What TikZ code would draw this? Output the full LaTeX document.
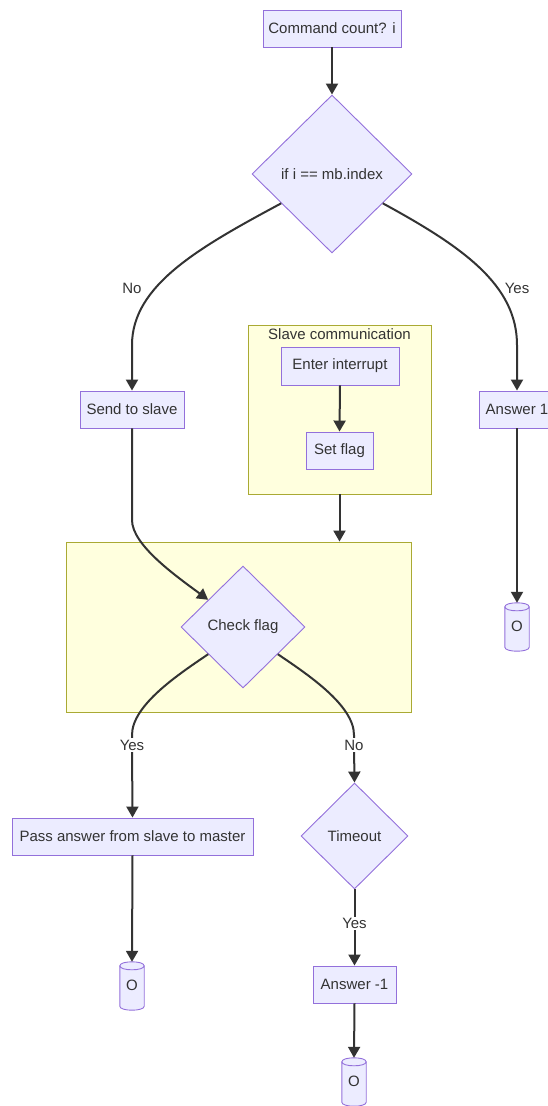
\documentclass[tikz,border=0pt]{standalone}
\usepackage{fontspec}
\setmainfont{Liberation Sans}
\usetikzlibrary{shapes.geometric,arrows.meta,calc}
\definecolor{nodefill}{HTML}{ECECFF}
\definecolor{nodeline}{HTML}{9370DB}
\definecolor{groupfill}{HTML}{FFFFDE}
\definecolor{groupline}{HTML}{AAAA33}
\definecolor{ink}{HTML}{333333}

% storage cylinder drawn around a named node
\newcommand\drawcan[1]{%
  \path[can]
    ($(#1.north west)+(0,4)$) -- ($(#1.south west)+(0,-4)$)
    .. controls +(0,5.33) and +(0,5.33) .. ($(#1.south east)+(0,-4)$)
    -- ($(#1.north east)+(0,4)$)
    .. controls +(0,-5.33) and +(0,-5.33) .. ($(#1.north west)+(0,4)$) -- cycle;
  \draw[canline] ($(#1.north west)+(0,4)$)
    .. controls +(0,5.33) and +(0,5.33) .. ($(#1.north east)+(0,4)$);
}

\begin{document}
\begin{tikzpicture}[x=1pt,y=-1pt,
  every node/.style={font=\fontsize{15}{18}\selectfont, text=ink},
  box/.style={rectangle, draw=nodeline, fill=nodefill, line width=0.9pt, inner sep=0},
  decision/.style={diamond, aspect=1, draw=nodeline, fill=nodefill, line width=0.9pt, inner sep=0},
  group/.style={rectangle, draw=groupline, fill=groupfill, line width=0.9pt, inner sep=0},
  can/.style={draw=nodeline, fill=nodefill, line width=0.9pt},
  canline/.style={draw=nodeline, line width=0.9pt},
  canbox/.style={minimum width=24pt, minimum height=48pt, inner sep=0},
  flow/.style={draw=ink, line width=2pt, -{Triangle[length=11pt,width=12pt]}},
  lbl/.style={fill=white, inner sep=1.5pt},
  sidelbl/.style={inner sep=0},
]
\useasboundingbox (0,0) rectangle (548,1106);

% groups
\node[group, minimum width=183pt, minimum height=169pt] (sg1) at (339.5,409.5) {};
\node (sg1title) at (339.5,334) {Slave communication};
\node[group, minimum width=345pt, minimum height=170pt] (sg2) at (238.5,627) {};

% nodes
\node[box, minimum width=138pt, minimum height=37pt] (cmd) at (332,28.5) {Command count? i};
\node[decision, minimum width=160pt, minimum height=158pt] (d1) at (332,174) {if i == mb.index};
\node[box, minimum width=104pt, minimum height=37pt] (send) at (132,409.5) {Send to slave};
\node[box, minimum width=76pt, minimum height=37pt] (a1) at (517,409.5) {Answer 1};
\node[box, minimum width=118pt, minimum height=38pt] (irq) at (340,366) {Enter interrupt};
\node[box, minimum width=67pt, minimum height=37pt] (flag) at (339.5,450.5) {Set flag};
\node[decision, minimum width=124pt, minimum height=122pt] (d2) at (243,627) {Check flag};
\node[box, minimum width=241pt, minimum height=37pt] (pass) at (132.5,836.5) {Pass answer from slave to master};
\node[decision, minimum width=107pt, minimum height=106pt] (d3) at (354.5,836) {Timeout};
\node[box, minimum width=83pt, minimum height=37pt] (am1) at (354.5,984.5) {Answer -1};

% storage cylinders
\node[canbox] (o1) at (517,627) {};
\node[canbox] (o2) at (132,986) {};
\node[canbox] (o3) at (354,1082) {};
\drawcan{o1}
\drawcan{o2}
\drawcan{o3}
\node (o1text) at ($(o1.center)+(0,-1)$) {O};
\node (o2text) at ($(o2.center)+(0,-1)$) {O};
\node (o3text) at ($(o3.center)+(0,-1)$) {O};

% branch labels beside the curves
\node[sidelbl] (lblno) at (132,288) {No};
\node[sidelbl] (lblyes) at (517,288) {Yes};

% connectors
\draw[flow] (cmd.south) -- (d1.north);
\draw[flow] (d1.210) .. controls (200,247) and (132,285) .. (132,345) -- (send.north);
\draw[flow] (d1.330) .. controls (463,247) and (517,285) .. (517,345) -- (a1.north);
\draw[flow] (irq.south) -- (flag.north);
\draw[flow] (sg1.south) -- (sg1.south |- sg2.north);
\draw[flow] (send.south) -- (132,520) .. controls (132,545) and (176,576) .. (d2.142);
\draw[flow] (d2.218) .. controls (179,674) and (132,705) .. (132,735)
  -- (132,745) node[lbl] {Yes} -- (pass.north);
\draw[flow] (d2.322) .. controls (307,674) and (354,705) .. (354,735)
  -- (354,745) node[lbl] {No} -- (d3.north);
\draw[flow] (d3.south) -- node[lbl, pos=0.45] {Yes} (am1.north);
\draw[flow] (a1.south) -- (o1.north);
\draw[flow] (pass.south) -- (o2.north);
\draw[flow] (am1.south) -- (o3.north);
\end{tikzpicture}
\end{document}
